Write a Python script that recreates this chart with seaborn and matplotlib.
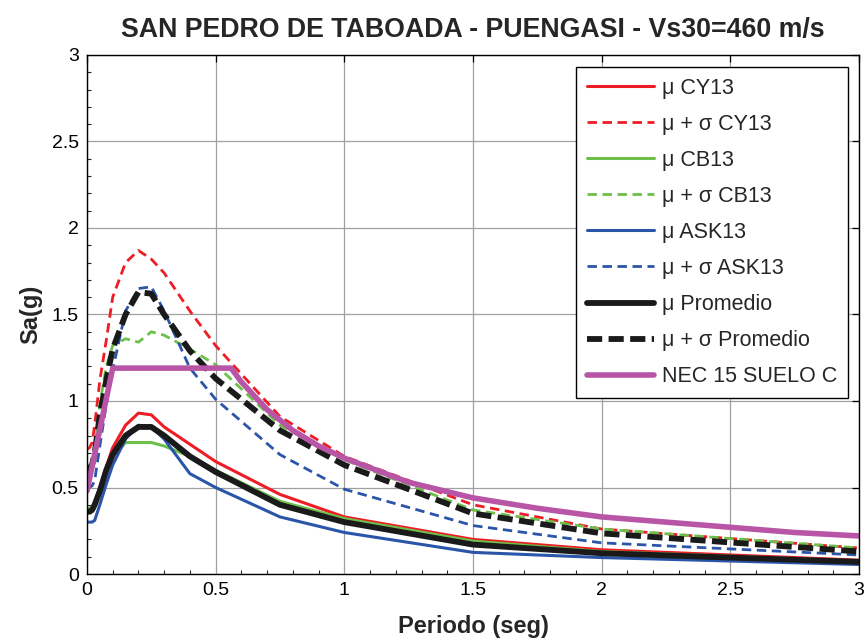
import numpy as np
import pandas as pd
import matplotlib
matplotlib.use("Agg")
import matplotlib.pyplot as plt
from matplotlib.ticker import MultipleLocator
import seaborn as sns

# Spectral periods (s)
periods = [0, 0.01, 0.02, 0.03, 0.05, 0.075, 0.1, 0.15, 0.2, 0.25, 0.3,
           0.4, 0.5, 0.75, 1.0, 1.5, 2.0, 3.0]

# Spectral accelerations Sa (g): median (mu) and median + sigma per GMPE
cy13_mu = [0.37, 0.37, 0.38, 0.41, 0.50, 0.62, 0.73, 0.86, 0.93, 0.92, 0.85,
           0.75, 0.65, 0.46, 0.33, 0.20, 0.14, 0.08]
cy13_sig = [0.72, 0.73, 0.76, 0.86, 1.12, 1.35, 1.60, 1.80, 1.87, 1.82, 1.74,
            1.52, 1.32, 0.91, 0.68, 0.40, 0.26, 0.15]
cb13_mu = [0.38, 0.38, 0.39, 0.42, 0.50, 0.60, 0.68, 0.76, 0.76, 0.76, 0.74,
           0.68, 0.60, 0.42, 0.32, 0.19, 0.13, 0.075]
cb13_sig = [0.62, 0.63, 0.65, 0.72, 0.98, 1.20, 1.32, 1.36, 1.34, 1.40, 1.38,
            1.30, 1.21, 0.86, 0.66, 0.37, 0.26, 0.15]
ask13_mu = [0.30, 0.30, 0.30, 0.31, 0.40, 0.52, 0.63, 0.78, 0.86, 0.85, 0.78,
            0.58, 0.50, 0.33, 0.24, 0.125, 0.095, 0.055]
ask13_sig = [0.50, 0.50, 0.51, 0.54, 0.74, 0.98, 1.18, 1.52, 1.65, 1.66, 1.52,
             1.19, 1.01, 0.69, 0.49, 0.28, 0.18, 0.11]
prom_mu = [0.36, 0.36, 0.37, 0.40, 0.48, 0.60, 0.69, 0.80, 0.85, 0.85, 0.80,
           0.68, 0.59, 0.40, 0.30, 0.17, 0.12, 0.07]
prom_sig = [0.60, 0.61, 0.63, 0.70, 0.92, 1.12, 1.30, 1.50, 1.63, 1.62, 1.50,
            1.29, 1.13, 0.83, 0.63, 0.35, 0.235, 0.13]

# NEC-15 design spectrum, soil type C
nec_T = [0, 0.1, 0.56, 0.6, 0.7, 0.8, 0.9, 1.0, 1.25, 1.5, 1.75, 2.0, 2.25,
         2.5, 2.75, 3.0]
nec_sa = [0.48, 1.19, 1.19, 1.11, 0.95, 0.83, 0.74, 0.67, 0.53, 0.44, 0.38,
          0.33, 0.30, 0.27, 0.24, 0.22]

x_ticks = [0, 0.5, 1, 1.5, 2, 2.5, 3]
y_ticks = [0, 0.5, 1, 1.5, 2, 2.5, 3]

sns.set_theme(style="white")
plt.rcParams["font.family"] = ["Liberation Sans", "DejaVu Sans"]

RED = "#ee1c25"
GREEN = "#6cc04a"
BLUE = "#2b55a8"
BLACK = "#1a1a1a"
MAGENTA = "#b855a6"

series = [
    ("\u03bc CY13", periods, cy13_mu, RED, "-", 2.2, None),
    ("\u03bc + \u03c3 CY13", periods, cy13_sig, RED, "--", 2.0, (3.4, 2.0)),
    ("\u03bc CB13", periods, cb13_mu, GREEN, "-", 2.2, None),
    ("\u03bc + \u03c3 CB13", periods, cb13_sig, GREEN, "--", 2.0, (3.4, 2.0)),
    ("\u03bc ASK13", periods, ask13_mu, BLUE, "-", 2.2, None),
    ("\u03bc + \u03c3 ASK13", periods, ask13_sig, BLUE, "--", 2.0, (3.4, 2.0)),
    ("\u03bc Promedio", periods, prom_mu, BLACK, "-", 4.2, None),
    ("\u03bc + \u03c3 Promedio", periods, prom_sig, BLACK, "--", 4.2, (2.6, 1.1)),
    ("NEC 15 SUELO C", nec_T, nec_sa, MAGENTA, "-", 4.0, None),
]

fig = plt.figure(figsize=(8.67, 6.43), dpi=100)
ax = fig.add_axes([0.1003, 0.1073, 0.8905, 0.8072])

handles = []
for label, xs, ys, color, ls, lw, dash in series:
    df = pd.DataFrame({"T": xs, "Sa": ys})
    sns.lineplot(data=df, x="T", y="Sa", ax=ax, color=color, linewidth=lw,
                 linestyle=ls, label=label, estimator=None, sort=False)
    line = ax.get_lines()[-1]
    if dash is not None:
        line.set_dashes(dash)
    handles.append(line)

ax.set_xlim(0, 3)
ax.set_ylim(0, 3)
ax.set_xticks(x_ticks)
ax.set_yticks(y_ticks)
ax.set_xticklabels([f"{v:g}" for v in x_ticks])
ax.set_yticklabels([f"{v:g}" for v in y_ticks])
ax.xaxis.set_minor_locator(MultipleLocator(0.1))
ax.yaxis.set_minor_locator(MultipleLocator(0.1))
ax.tick_params(which="major", direction="in", length=5, width=0.9,
               top=True, right=True, labelsize=14, colors="black", pad=6)
ax.tick_params(which="minor", direction="in", length=3, width=0.8,
               top=False, right=False, bottom=True, left=True)
ax.grid(True, which="major", color="#a0a0a0", linewidth=0.9, linestyle="-")
ax.set_axisbelow(True)
for sp in ax.spines.values():
    sp.set_visible(True)
    sp.set_color("black")
    sp.set_linewidth(1.0)

ax.set_xlabel("Periodo (seg)", fontsize=17, fontweight="bold", labelpad=11)
ax.set_ylabel("Sa(g)", fontsize=17, fontweight="bold", labelpad=7)
ax.set_title("SAN PEDRO DE TABOADA - PUENGASI - Vs30=460 m/s",
             fontsize=19.3, fontweight="bold", pad=13)

leg = ax.legend(handles=handles, loc="upper right",
                bbox_to_anchor=(0.986, 0.977), borderaxespad=0,
                fontsize=15.5, handlelength=3.1, labelspacing=0.70,
                handletextpad=0.4, borderpad=0.5, fancybox=False,
                framealpha=1, edgecolor="black")
leg.get_frame().set_linewidth(1.0)

fig.savefig("out.png", dpi=100, facecolor="white")
